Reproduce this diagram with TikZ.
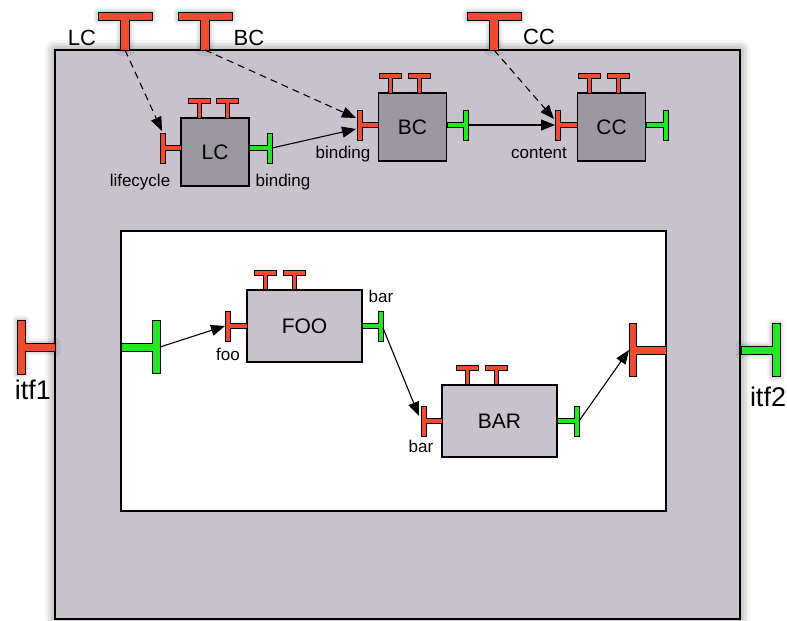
\documentclass[tikz,border=0pt]{standalone}
\usepackage{fontspec}
\setmainfont{Liberation Sans}
\usetikzlibrary{arrows.meta,shadows.blur}
\definecolor{outerfill}{RGB}{199,194,204}
\definecolor{compfill}{RGB}{154,151,158}
\definecolor{tred}{RGB}{242,74,48}
\definecolor{tgreen}{RGB}{34,232,34}
\tikzset{
  pics/tee/.style n args={5}{code={
    \filldraw[draw=black,line width=0.7pt,#5] (0,-#4/2) -- (#1,-#4/2) -- (#1,-#3/2) -- (#1+#2,-#3/2) -- (#1+#2,#3/2) -- (#1,#3/2) -- (#1,#4/2) -- (0,#4/2) -- cycle;
  }},
  bigshadow/.style={blur shadow={shadow xshift=0pt,shadow yshift=0pt,shadow blur radius=5pt,shadow opacity=40}},
  comp/.style={draw=black,line width=1.2pt,fill=compfill,minimum width=68pt,minimum height=68pt,inner sep=0pt,font=\fontsize{21}{25}\selectfont},
  compwide/.style={comp,fill=outerfill,minimum width=115pt,minimum height=72pt},
  lbl/.style={font=\fontsize{17}{20}\selectfont,anchor=base,inner sep=0pt},
  toplbl/.style={font=\fontsize{22}{26}\selectfont,anchor=base,inner sep=0pt},
  itflbl/.style={font=\fontsize{27}{32}\selectfont,anchor=base,inner sep=0pt},
  conn/.style={line width=1.1pt,-{Triangle[length=14pt,width=11pt]}},
  dconn/.style={conn,dash pattern=on 7pt off 5pt},
}
\begin{document}
\begin{tikzpicture}[x=1pt,y=-1pt]
\useasboundingbox (0,0) rectangle (787,621);
% outer composite
\node[draw=black,line width=1.3pt,fill=outerfill,minimum width=685pt,minimum height=569pt,inner sep=0pt,
  blur shadow={shadow xshift=0pt,shadow yshift=0pt,shadow blur radius=10pt,shadow opacity=60}] (outer) at (397.5,334.5) {};
% inner content area
\node[draw=black,line width=1.3pt,fill=white,minimum width=545pt,minimum height=280pt,inner sep=0pt] (inner) at (393.5,371) {};

% top external interfaces
\pic[rotate=90] at (125,50) {tee={30}{8}{54}{9}{fill=tred,bigshadow}};
\pic[rotate=90] at (205,50) {tee={30}{8}{54}{9}{fill=tred,bigshadow}};
\pic[rotate=90] at (494,50) {tee={30}{8}{54}{9}{fill=tred,bigshadow}};
\node[toplbl] (lLC) at (82,45) {LC};
\node[toplbl] (lBC) at (249,45) {BC};
\node[toplbl] (lCC) at (539,44) {CC};

% side interfaces
\pic[rotate=180] at (55,347) {tee={30}{8}{54}{8}{fill=tred,bigshadow}};
\pic at (121,347) {tee={31}{8}{53}{8}{fill=tgreen}};
\pic[rotate=180] at (666,350) {tee={30}{7}{53}{8}{fill=tred}};
\pic at (741,350) {tee={31}{8}{53}{8}{fill=tgreen,bigshadow}};
\node[itflbl] (litf1) at (33,399) {itf1};
\node[itflbl] (litf2) at (768,406) {itf2};

% controller components
\node[comp] (LC) at (215,152) {LC};
\node[comp] (BC) at (412.5,127) {BC};
\node[comp] (CC) at (611.5,127) {CC};
\foreach \px/\py in {199/118,227/118,390/93,419/93,589/93,618/93,265/290,294/290,467/385,496/385}
  \pic[rotate=90] at (\px,\py) {tee={15}{5}{22}{4}{fill=tred}};
\pic[rotate=180] at (181,148) {tee={16}{5}{30}{5}{fill=tred}};
\pic at (249,148) {tee={18}{5}{30}{5}{fill=tgreen}};
\pic[rotate=180] at (378,125) {tee={16}{5}{30}{5}{fill=tred}};
\pic at (447,125) {tee={16}{5}{30}{5}{fill=tgreen}};
\pic[rotate=180] at (577,125) {tee={17}{5}{30}{5}{fill=tred}};
\pic at (646,125) {tee={17}{5}{30}{5}{fill=tgreen}};

% content components
\node[compwide] (FOO) at (304.5,326) {FOO};
\node[compwide] (BAR) at (499.5,421) {BAR};
\pic[rotate=180] at (247,326) {tee={17}{5}{30}{5}{fill=tred}};
\pic at (362,326) {tee={16}{5}{30}{5}{fill=tgreen}};
\pic[rotate=180] at (442,421) {tee={16}{5}{30}{5}{fill=tred}};
\pic at (557,421) {tee={17}{5}{30}{5}{fill=tgreen}};

% port labels
\node[lbl] (llife) at (140,186) {lifecycle};
\node[lbl] (lbind1) at (283,186) {binding};
\node[lbl] (lbind2) at (343,158) {binding};
\node[lbl] (lcont) at (539,158) {content};
\node[lbl] (lfoo) at (228,360) {foo};
\node[lbl] (lbar1) at (381,302) {bar};
\node[lbl] (lbar2) at (421,452) {bar};

% connector end points
\coordinate (lcTop) at (125,50);
\coordinate (bcTop) at (205,50);
\coordinate (ccTop) at (494,50);
\coordinate (lcRed) at (162,131);
\coordinate (lcGreen) at (272,148);
\coordinate (bcRedA) at (356,118);
\coordinate (bcRedB) at (356,129);
\coordinate (bcGreen) at (468,125);
\coordinate (ccRedA) at (554,119);
\coordinate (ccRedB) at (555,125);
\coordinate (inGreen) at (160,347);
\coordinate (fooRed) at (225,326);
\coordinate (fooGreen) at (383,328);
\coordinate (barRed) at (419,416);
\coordinate (barGreen) at (579,421);
\coordinate (inRed) at (629,350);

\draw[dconn] (lcTop) -- (lcRed);
\draw[dconn] (bcTop) -- (bcRedA);
\draw[dconn] (ccTop) -- (ccRedA);
\draw[conn] (lcGreen) -- (bcRedB);
\draw[conn] (bcGreen) -- (ccRedB);
\draw[conn] (inGreen) -- (fooRed);
\draw[conn] (fooGreen) -- (barRed);
\draw[conn] (barGreen) -- (inRed);
\end{tikzpicture}
\end{document}
